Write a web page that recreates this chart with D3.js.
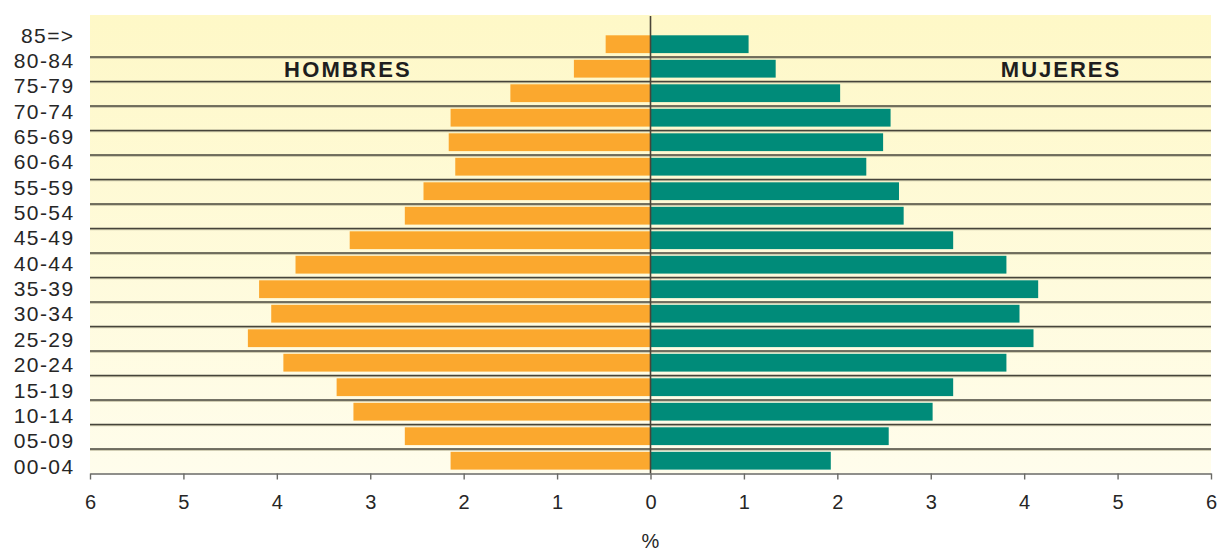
<!DOCTYPE html>
<html>
<head>
<meta charset="utf-8">
<script src="https://cdn.jsdelivr.net/npm/d3@7"></script>
<style>
  html, body { margin: 0; padding: 0; background: #ffffff; }
  svg { display: block; font-family: "Liberation Sans", Arial, Helvetica, sans-serif; }
</style>
</head>
<body>
<svg id="chart" width="1218" height="551"></svg>
<script>
// ---- data ----
const ageGroups = ["85=>", "80-84", "75-79", "70-74", "65-69", "60-64", "55-59", "50-54", "45-49",
  "40-44", "35-39", "30-34", "25-29", "20-24", "15-19", "10-14", "05-09", "00-04"];
const hombres = [0.48, 0.82, 1.50, 2.14, 2.16, 2.09, 2.43, 2.63, 3.22,
  3.80, 4.19, 4.06, 4.31, 3.93, 3.36, 3.18, 2.63, 2.14];
const mujeres = [1.05, 1.34, 2.03, 2.57, 2.49, 2.31, 2.66, 2.71, 3.24,
  3.81, 4.15, 3.95, 4.10, 3.81, 3.24, 3.02, 2.55, 1.93];
const tickValues = [-6, -5, -4, -3, -2, -1, 0, 1, 2, 3, 4, 5, 6];
const seriesLabels = ["HOMBRES", "MUJERES"];
const axisTitle = "%";

// ---- layout ----
const svg = d3.select("#chart");
const plotLeft = 90, plotRight = 1211, plotTop = 15, rowsTop = 32.5, plotBottom = 473.5;

const x = d3.scaleLinear().domain([-6, 6]).range([plotLeft, plotRight]);
const y = d3.scaleBand().domain(ageGroups).range([rowsTop, plotBottom]).paddingInner(0).paddingOuter(0);
const yLab = d3.scalePoint().domain(ageGroups).range([35, 466]);

// background gradient
const defs = svg.append("defs");
const grad = defs.append("linearGradient").attr("id", "bg").attr("x1", 0).attr("y1", 0).attr("x2", 0).attr("y2", 1);
grad.append("stop").attr("offset", "0%").attr("stop-color", "#fef8c7");
grad.append("stop").attr("offset", "100%").attr("stop-color", "#fffdec");

svg.append("rect")
  .attr("x", plotLeft).attr("y", plotTop)
  .attr("width", plotRight - plotLeft).attr("height", plotBottom - plotTop)
  .attr("fill", "url(#bg)");

// bars
const barOff = 2.8, barH = 17.8;
svg.append("g").selectAll("rect").data(ageGroups).join("rect")
  .attr("x", (d, i) => x(-hombres[i]))
  .attr("y", d => y(d) + barOff)
  .attr("width", (d, i) => x(0) - x(-hombres[i]))
  .attr("height", barH)
  .attr("fill", "#fba82e");

svg.append("g").selectAll("rect").data(ageGroups).join("rect")
  .attr("x", x(0))
  .attr("y", d => y(d) + barOff)
  .attr("width", (d, i) => x(mujeres[i]) - x(0))
  .attr("height", barH)
  .attr("fill", "#008b79");

// row separator lines
const seps = ageGroups.slice(1);
const sepG = svg.append("g");
sepG.selectAll("line.shadow").data(seps).join("line")
  .attr("class", "shadow")
  .attr("x1", plotLeft).attr("x2", plotRight)
  .attr("y1", d => y(d) + 1.2).attr("y2", d => y(d) + 1.2)
  .attr("stroke", "#bdb89c").attr("stroke-width", 1);
sepG.selectAll("line.main").data(seps).join("line")
  .attr("class", "main")
  .attr("x1", plotLeft).attr("x2", plotRight)
  .attr("y1", d => y(d)).attr("y2", d => y(d))
  .attr("stroke", "#46443a").attr("stroke-width", 1.6);

// center line
svg.append("line")
  .attr("x1", x(0)).attr("x2", x(0))
  .attr("y1", plotTop + 1).attr("y2", plotBottom)
  .attr("stroke", "#4a4438").attr("stroke-width", 1.6);

// x axis
const xAxis = d3.axisBottom(x)
  .tickValues(tickValues)
  .tickFormat(d => Math.abs(d))
  .tickSize(6)
  .tickPadding(15)
  .tickSizeOuter(0);
const ax = svg.append("g").attr("transform", `translate(0,${plotBottom})`).call(xAxis);
ax.select(".domain").attr("stroke", "#6a6a66").attr("stroke-width", 1.6);
ax.selectAll(".tick line").attr("stroke", "#6a6a66").attr("stroke-width", 1.4);
ax.selectAll(".tick text").attr("fill", "#262626").style("font-size", "20px")
  .style("font-family", "'Liberation Sans', Arial, sans-serif");

// y labels
svg.append("g").selectAll("text").data(ageGroups).join("text")
  .attr("x", 74.5)
  .attr("y", d => yLab(d))
  .attr("dy", "0.36em")
  .attr("text-anchor", "end")
  .attr("fill", "#262626")
  .style("font-size", "21px")
  .style("letter-spacing", "1.4px")
  .text(d => d);

// series labels
svg.append("text")
  .attr("x", 348).attr("y", 76.5)
  .attr("text-anchor", "middle")
  .attr("fill", "#1e1e1e")
  .style("font-size", "22px").style("font-weight", "bold").style("letter-spacing", "2.2px")
  .text(seriesLabels[0]);
svg.append("text")
  .attr("x", 1061).attr("y", 76.5)
  .attr("text-anchor", "middle")
  .attr("fill", "#1e1e1e")
  .style("font-size", "22px").style("font-weight", "bold").style("letter-spacing", "2px")
  .text(seriesLabels[1]);

// axis title
svg.append("text")
  .attr("x", x(0)).attr("y", 548)
  .attr("text-anchor", "middle")
  .attr("fill", "#262626")
  .style("font-size", "20px")
  .text(axisTitle);
</script>
</body>
</html>
